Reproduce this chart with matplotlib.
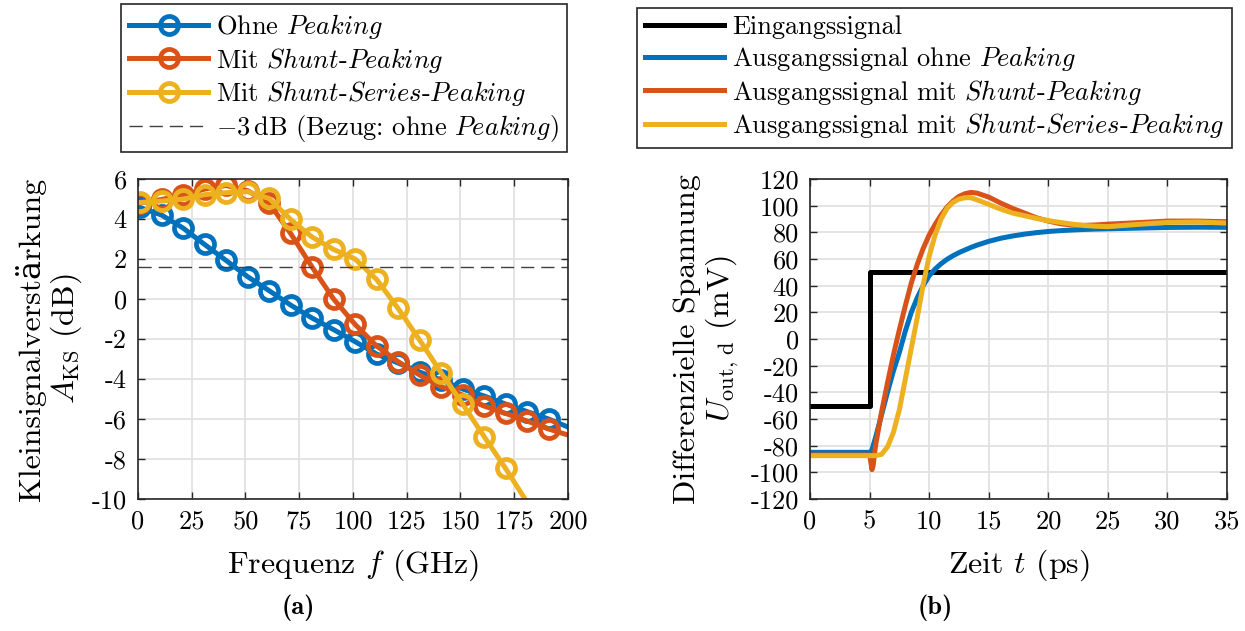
import numpy as np
import matplotlib
matplotlib.use("Agg")
import matplotlib.pyplot as plt

plt.rcParams["font.family"] = ["cmr10", "DejaVu Serif"]
plt.rcParams["mathtext.fontset"] = "cm"
plt.rcParams["axes.unicode_minus"] = False
plt.rcParams["axes.formatter.use_mathtext"] = False

COLOR = ["#0072BD", "#D95319", "#EDB120"]
GRID = "#e2e2e2"
SPINE = "#262626"

# small-signal gain vs frequency, markers every 10 GHz, last point is line end only
FREQ = [1, 11, 21, 31, 41, 51, 61, 71, 81, 91, 101, 111, 121, 131, 141, 151, 161, 171, 181, 191, 200]
GAIN_OHNE = [4.58, 4.2, 3.55, 2.73, 1.93, 1.12, 0.42, -0.3, -0.95, -1.53, -2.13, -2.75, -3.2,
             -3.65, -4.05, -4.5, -4.85, -5.25, -5.63, -6.0, -6.4]
GAIN_SHUNT = [4.8, 4.98, 5.2, 5.5, 5.68, 5.42, 4.8, 3.28, 1.6, 0.0, -1.27, -2.35, -3.13,
              -3.8, -4.38, -4.8, -5.35, -5.72, -6.1, -6.5, -6.8]
FREQ_SS = [1, 11, 21, 31, 41, 51, 61, 71, 81, 91, 101, 111, 121, 131, 141, 151, 161, 171, 180]
GAIN_SS = [4.83, 4.9, 5.0, 5.22, 5.32, 5.37, 5.03, 3.98, 3.1, 2.48, 2.0, 0.98, -0.47,
           -2.05, -3.68, -5.25, -6.88, -8.47, -10.0]
REF_3DB = GAIN_OHNE[0] - 3

# step response
T_IN = [0, 5, 35]
U_IN = [-50, 50, 50]
T = [0, 5, 5.1, 5.2, 5.3, 5.5, 6, 6.5, 7, 7.5, 8, 8.5, 9, 9.5, 10, 10.5, 11, 11.5, 12, 12.5,
     13, 13.5, 14, 15, 16, 17, 18, 19, 20, 21, 22, 23, 24, 25, 27.5, 30, 32.5, 35]
U_OHNE = [-85, -85, -85, -83, -80, -74, -57, -40, -24, -10, 6, 20, 31, 40, 47.5, 52.5, 56.5,
          59.8, 62.5, 64.8, 66.8, 68.7, 70.4, 73.3, 75.6, 77.3, 78.7, 79.8, 80.7, 81.3, 81.8,
          82.2, 82.5, 82.7, 83.2, 83.7, 83.9, 83.8]
U_SHUNT = [-87, -87, -92, -98, -95, -80, -55, -33, -12, 7, 25, 42, 56, 68, 78, 86, 93, 99,
           103.5, 107, 109, 110, 109.5, 106.5, 102, 98, 94.5, 91, 88.5, 86.5, 85.5, 85.3,
           85.6, 86.2, 87.3, 88.5, 88.5, 88]
U_SS = [-87.5, -87.5, -87.5, -87.5, -87.5, -87.5, -86.5, -81, -70, -53, -30, -7, 16, 41,
        62, 78, 90, 98, 102.5, 105, 106, 106, 104.5, 101, 97.5, 94.5, 92.5, 90.5, 88.8,
        87.5, 86.2, 85.2, 84.6, 84.3, 86, 87.5, 87.8, 87]

TICK_FS = 19
LABEL_FS = 23
LEG_FS = 19
LW = 3.6


def style_axes(ax):
    ax.grid(True, color=GRID, linewidth=1.3)
    ax.set_axisbelow(True)
    for s in ax.spines.values():
        s.set_color(SPINE)
        s.set_linewidth(1.2)
    ax.tick_params(direction="in", top=True, right=True, length=5, width=1.0,
                   colors=SPINE, labelcolor="black", labelsize=TICK_FS, pad=8)


fig = plt.figure(figsize=(12.45, 6.31), dpi=100)
ax1 = fig.add_axes([0.1108, 0.2092, 0.3454, 0.507])
ax2 = fig.add_axes([0.6506, 0.2092, 0.3350, 0.507])

# (a) frequency response
mk = dict(marker="o", markersize=13, markerfacecolor="none", markeredgewidth=3.4)
ax1.plot(FREQ, GAIN_OHNE, color=COLOR[0], lw=LW, markevery=list(range(len(FREQ) - 1)),
         label="Ohne $\\mathit{Peaking}$", **mk)
ax1.plot(FREQ, GAIN_SHUNT, color=COLOR[1], lw=LW, markevery=list(range(len(FREQ) - 1)),
         label="Mit $\\mathit{Shunt}$-$\\mathit{Peaking}$", **mk)
ax1.plot(FREQ_SS, GAIN_SS, color=COLOR[2], lw=LW, markevery=list(range(len(FREQ_SS) - 1)),
         label="Mit $\\mathit{Shunt}$-$\\mathit{Series}$-$\\mathit{Peaking}$", **mk)
ax1.axhline(REF_3DB, color="#404040", lw=1.0, dashes=(9.5, 5),
            label="$-3\\,$dB (Bezug: ohne $\\mathit{Peaking}$)")
ax1.set_xlim(0, 200)
ax1.set_ylim(-10, 6)
ax1.set_xticks(range(0, 201, 25))
ax1.set_yticks(range(-10, 7, 2))
style_axes(ax1)
ax1.set_xlabel("Frequenz $f$ (GHz)", fontsize=LABEL_FS, labelpad=10)
ax1.set_ylabel("Kleinsignalverstärkung\n$A_{\\mathrm{KS}}$ (dB)", fontsize=LABEL_FS,
               linespacing=1.1)
ax1.yaxis.set_label_coords(-0.125, 0.5)

# (b) step response
ax2.plot(T_IN, U_IN, color="black", lw=LW, drawstyle="steps-post", label="Eingangssignal")
ax2.plot(T, U_OHNE, color=COLOR[0], lw=LW, label="Ausgangssignal ohne $\\mathit{Peaking}$")
ax2.plot(T, U_SHUNT, color=COLOR[1], lw=LW,
         label="Ausgangssignal mit $\\mathit{Shunt}$-$\\mathit{Peaking}$")
ax2.plot(T, U_SS, color=COLOR[2], lw=LW,
         label="Ausgangssignal mit $\\mathit{Shunt}$-$\\mathit{Series}$-$\\mathit{Peaking}$")
ax2.set_xlim(0, 35)
ax2.set_ylim(-120, 120)
ax2.set_xticks(range(0, 36, 5))
ax2.set_yticks(range(-120, 121, 20))
style_axes(ax2)
ax2.set_xlabel("Zeit $t$ (ps)", fontsize=LABEL_FS, labelpad=10)
ax2.set_ylabel("Differenzielle Spannung\n$U_{\\mathrm{out,\\,d}}$ (mV)", fontsize=LABEL_FS,
               linespacing=1.1)
ax2.yaxis.set_label_coords(-0.166, 0.5)

leg_kw = dict(loc="center", fontsize=LEG_FS, fancybox=False, framealpha=1,
              edgecolor=SPINE, handlelength=3.0, handletextpad=0.3, labelspacing=0.18,
              borderpad=0.3, borderaxespad=0)
l1 = fig.legend(*ax1.get_legend_handles_labels(), bbox_to_anchor=(0.2764, 0.8764), **leg_kw)
l2 = fig.legend(*ax2.get_legend_handles_labels(), bbox_to_anchor=(0.7506, 0.8764), **leg_kw)
for leg in (l1, l2):
    leg.get_frame().set_linewidth(1.2)

fig.text(0.2394, 0.0365, "(a)", family="cmb10", fontsize=19, ha="center", va="center")
fig.text(0.751, 0.0365, "(b)", family="cmb10", fontsize=19, ha="center", va="center")

fig.savefig("out.png", dpi=100)
